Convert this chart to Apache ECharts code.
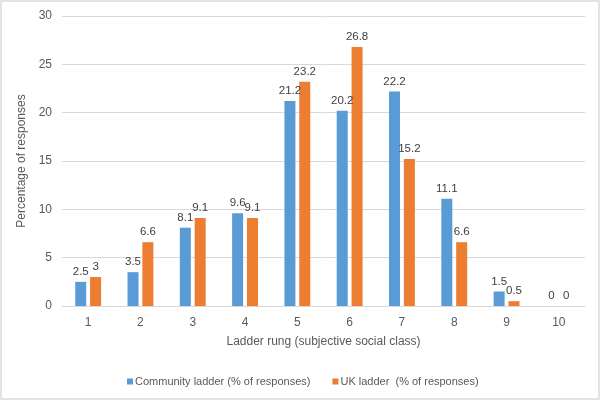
<!DOCTYPE html>
<html><head><meta charset="utf-8">
<script src="https://cdn.jsdelivr.net/npm/echarts@6/dist/echarts.min.js"></script>
<style>html,body{margin:0;padding:0;background:#fff}#c{width:596px;height:396px;border:2px solid #e3e3e3}</style>
</head><body><div id="c"></div>
<script>
var categories = ['1','2','3','4','5','6','7','8','9','10'];
var community = [2.5, 3.5, 8.1, 9.6, 21.2, 20.2, 22.2, 11.1, 1.5, 0];
var uk = [3, 6.6, 9.1, 9.1, 23.2, 26.8, 15.2, 6.6, 0.5, 0];
var seriesNames = ['Community ladder (% of responses)', 'UK ladder  (% of responses)'];
var chart = echarts.init(document.getElementById('c'));
var font = '"Liberation Sans", Arial, sans-serif';
var lbl = {show:true, position:'top', distance:4, color:'#404040', fontSize:11.5, fontFamily:font};
chart.setOption({
  animation:false,
  textStyle:{fontFamily:font},
  grid:{left:60, right:13, top:14, bottom:92},
  legend:{top:369, left:120, itemWidth:6, itemHeight:6, itemGap:22, icon:'rect',
    textStyle:{color:'#595959', fontSize:11, fontFamily:font, padding:[0,0,0,-3]}, data:seriesNames},
  xAxis:{type:'category', data:categories,
    name:'Ladder rung (subjective social class)', nameLocation:'middle', nameGap:30,
    nameTextStyle:{color:'#595959', fontSize:12, fontFamily:font},
    axisLine:{lineStyle:{color:'#d9d9d9'}}, axisTick:{show:false},
    axisLabel:{color:'#595959', fontSize:12, margin:11}},
  yAxis:{type:'value', min:0, max:30, interval:5,
    name:'Percentage of responses', nameLocation:'middle', nameGap:34, nameRotate:90,
    nameTextStyle:{color:'#595959', fontSize:12, fontFamily:font},
    axisLine:{show:false}, axisTick:{show:false},
    axisLabel:{color:'#595959', fontSize:12, margin:10},
    splitLine:{lineStyle:{color:'#d9d9d9'}}},
  series:[
    {name:seriesNames[0], type:'bar', data:community, barWidth:11, barGap:'35%',
     itemStyle:{color:'#5b9bd5'}, label:lbl},
    {name:seriesNames[1], type:'bar', data:uk, barWidth:11,
     itemStyle:{color:'#ed7d31'}, label:lbl}
  ]
});
</script></body></html>
